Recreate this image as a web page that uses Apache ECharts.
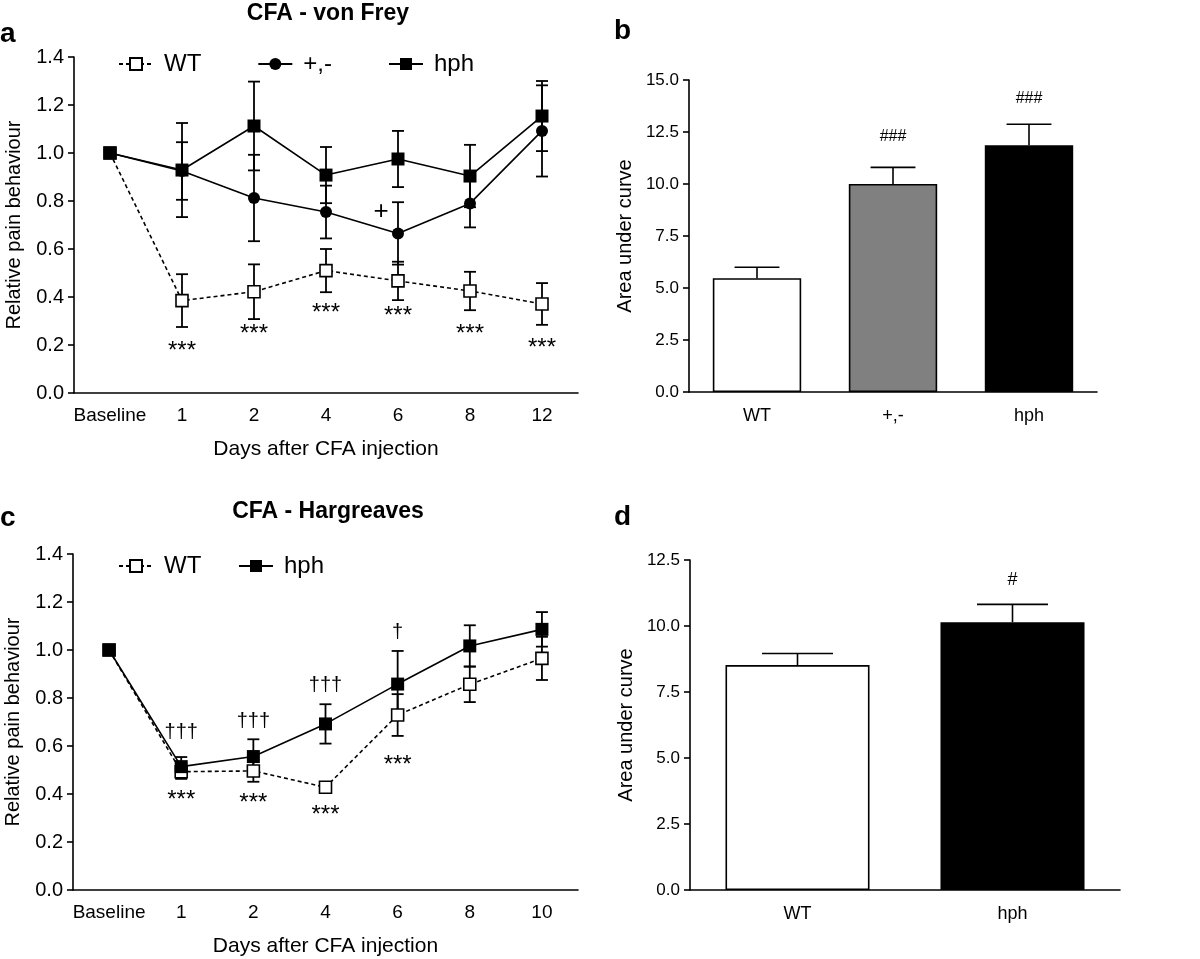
<!DOCTYPE html>
<html>
<head>
<meta charset="utf-8">
<script src="https://cdn.jsdelivr.net/npm/echarts@6/dist/echarts.min.js"></script>
<style>
  html, body { margin: 0; padding: 0; background: #fff; }
  #chart { width: 1200px; height: 959px; }
</style>
</head>
<body>
<div id="chart"></div>
<script>
// panel a - von Frey
const daysA = ['Baseline', '1', '2', '4', '6', '8', '12'];
const wtA = [1.0, 0.385, 0.422, 0.51, 0.467, 0.425, 0.371];
const wtAErr = [0, 0.11, 0.114, 0.09, 0.08, 0.08, 0.087];
const hetA = [1.0, 0.925, 0.8125, 0.754, 0.665, 0.79, 1.092];
const hetAErr = [0, 0.12, 0.18, 0.11, 0.13, 0.1, 0.19];
const hphA = [1.0, 0.929, 1.1125, 0.908, 0.975, 0.904, 1.154];
const hphAErr = [0, 0.196, 0.185, 0.117, 0.117, 0.13, 0.146];
const starA = [null, 0.196, 0.267, 0.354, 0.342, 0.267, 0.208];
const plusA = [null, null, null, null, 0.754, null, null];

// panel b - AUC von Frey
const groupsB = ['WT', '+,-', 'hph'];
const aucB = [5.47, 10.0, 11.86];
const aucBErr = [0.53, 0.8, 1.01];
const sigB = ['', '###', '###'];
const sigBY = [null, 12.3, 14.13];

// panel c - Hargreaves
const daysC = ['Baseline', '1', '2', '4', '6', '8', '10'];
const wtC = [1.0, 0.493, 0.496, 0.428, 0.729, 0.857, 0.965];
const wtCErr = [0, 0.03, 0.045, 0.015, 0.087, 0.074, 0.09];
const hphC = [1.0, 0.514, 0.556, 0.692, 0.858, 1.017, 1.086];
const hphCErr = [0, 0.04, 0.072, 0.082, 0.138, 0.086, 0.072];
const daggerC = ['', '†††', '†††', '†††', '†', '', ''];
const daggerCY = [null, 0.66, 0.705, 0.858, 1.076, null, null];
const starCY = [null, 0.393, 0.383, 0.333, 0.542, null, null];

// panel d - AUC Hargreaves
const groupsD = ['WT', 'hph'];
const aucD = [8.52, 10.14];
const aucDErr = [0.44, 0.68];
const sigD = ['', '#'];
const sigDY = [null, 11.74];

const FONT = 'Liberation Sans';
const barColors = { 'WT': '#ffffff', '+,-': '#808080', 'hph': '#000000' };

function errBars(idx, means, errs, capHalf, z) {
  const data = [];
  means.forEach((m, i) => { if (errs[i] > 0) data.push([i, m - errs[i], m + errs[i]]); });
  return {
    type: 'custom', xAxisIndex: idx, yAxisIndex: idx, z: z || 1, silent: true,
    data: data,
    renderItem(params, api) {
      const hi = api.coord([api.value(0), api.value(2)]);
      const lo = api.coord([api.value(0), api.value(1)]);
      const st = { stroke: '#000', lineWidth: 1.8 };
      return { type: 'group', children: [
        { type: 'line', shape: { x1: hi[0], y1: hi[1], x2: lo[0], y2: lo[1] }, style: st },
        { type: 'line', shape: { x1: hi[0] - capHalf, y1: hi[1], x2: hi[0] + capHalf, y2: hi[1] }, style: st },
        { type: 'line', shape: { x1: lo[0] - capHalf, y1: lo[1], x2: lo[0] + capHalf, y2: lo[1] }, style: st }
      ]};
    }
  };
}

// upper-only error bar for the AUC bars, cap = half bar width
function barErr(idx, means, errs) {
  return {
    type: 'custom', xAxisIndex: idx, yAxisIndex: idx, z: 3, silent: true,
    data: means.map((m, i) => [i, m, m + errs[i]]),
    renderItem(params, api) {
      const top = api.coord([api.value(0), api.value(1)]);
      const hi = api.coord([api.value(0), api.value(2)]);
      const half = api.size([1, 0])[0] * 0.165;
      const st = { stroke: '#000', lineWidth: 1.6 };
      return { type: 'group', children: [
        { type: 'line', shape: { x1: top[0], y1: top[1], x2: hi[0], y2: hi[1] }, style: st },
        { type: 'line', shape: { x1: hi[0] - half, y1: hi[1], x2: hi[0] + half, y2: hi[1] }, style: st }
      ]};
    }
  };
}

function notes(idx, ys, texts, size, dx, dy) {
  const data = [];
  ys.forEach((y, i) => { if (y != null) data.push([i, y]); });
  return {
    type: 'custom', xAxisIndex: idx, yAxisIndex: idx, z: 5, silent: true,
    data: data,
    renderItem(params, api) {
      const p = api.coord([api.value(0), api.value(1)]);
      const i = api.value(0);
      const t = typeof texts === 'string' ? texts : texts[i];
      return { type: 'text', x: p[0] + dx, y: p[1] + dy,
        style: { text: t, fill: '#000', font: size + 'px "' + FONT + '"', align: 'center', verticalAlign: 'middle' } };
    }
  };
}

function lineY(idx) {
  return {
    gridIndex: idx, type: 'value', min: 0, max: 1.4, interval: 0.2,
    name: 'Relative pain behaviour', nameLocation: 'middle', nameGap: 50,
    nameTextStyle: { fontSize: 20, color: '#000', fontFamily: FONT },
    axisLine: { show: true, lineStyle: { color: '#000', width: 1.6 } },
    axisTick: { show: true, length: 6, lineStyle: { color: '#000', width: 1.6 } },
    axisLabel: { fontSize: 20, color: '#000', fontFamily: FONT, margin: 10, formatter: v => v.toFixed(1) },
    splitLine: { show: false }
  };
}
function lineX(idx, cats) {
  return {
    gridIndex: idx, type: 'category', data: cats, boundaryGap: true,
    name: 'Days after CFA injection', nameLocation: 'middle', nameGap: 46,
    nameTextStyle: { fontSize: 21, color: '#000', fontFamily: FONT },
    axisLine: { lineStyle: { color: '#000', width: 1.6 } },
    axisTick: { alignWithLabel: true, interval: 0, length: 6, lineStyle: { color: '#000', width: 1.6 } },
    axisLabel: { interval: 0, fontSize: 19, color: '#000', fontFamily: FONT, margin: 13 }
  };
}
function barY(idx, max) {
  return {
    gridIndex: idx, type: 'value', min: 0, max: max, interval: 2.5,
    name: 'Area under curve', nameLocation: 'middle', nameGap: 54,
    nameTextStyle: { fontSize: 20, color: '#000', fontFamily: FONT },
    axisLine: { show: true, lineStyle: { color: '#000', width: 1.6 } },
    axisTick: { show: true, length: 6, lineStyle: { color: '#000', width: 1.6 } },
    axisLabel: { fontSize: 17, color: '#000', fontFamily: FONT, margin: 10, formatter: v => v.toFixed(1) },
    splitLine: { show: false }
  };
}
function barX(idx, cats) {
  return {
    gridIndex: idx, type: 'category', data: cats,
    axisLine: { lineStyle: { color: '#000', width: 1.6 } },
    axisTick: { alignWithLabel: true, length: 7, lineStyle: { color: '#000', width: 1.6 } },
    axisLabel: { interval: 0, fontSize: 18, color: '#000', fontFamily: FONT, margin: 15 }
  };
}

const solid = { color: '#000', width: 1.6 };
const dashed = { color: '#000', width: 1.6, type: [4, 3] };
const openSq = { color: '#fff', borderColor: '#000', borderWidth: 1.6 };
const filled = { color: '#000' };

const legendText = { fontSize: 24, color: '#000', fontFamily: FONT, padding: [0, 0, 0, 6] };

const option = {
  backgroundColor: '#fff',
  animation: false,
  textStyle: { fontFamily: FONT },
  graphic: [
    { type: 'text', x: 0, y: 20, style: { text: 'a', font: 'bold 28px "' + FONT + '"', fill: '#000' } },
    { type: 'text', x: 614, y: 17, style: { text: 'b', font: 'bold 28px "' + FONT + '"', fill: '#000' } },
    { type: 'text', x: 0, y: 504, style: { text: 'c', font: 'bold 28px "' + FONT + '"', fill: '#000' } },
    { type: 'text', x: 614, y: 503, style: { text: 'd', font: 'bold 28px "' + FONT + '"', fill: '#000' } },
    { type: 'text', x: 328, y: 14, style: { text: 'CFA - von Frey', font: 'bold 23px "' + FONT + '"', fill: '#000', align: 'center', verticalAlign: 'middle' } },
    { type: 'text', x: 328, y: 512, style: { text: 'CFA - Hargreaves', font: 'bold 23px "' + FONT + '"', fill: '#000', align: 'center', verticalAlign: 'middle' } }
  ],
  legend: [
    { left: 113, top: 47, itemWidth: 34, itemHeight: 15, itemGap: 56, textStyle: legendText,
      data: ['WT', '+,-', 'hph'].map(n => ({ name: n })), selectedMode: false },
    { left: 113, top: 549, itemWidth: 34, itemHeight: 15, itemGap: 30, textStyle: legendText,
      data: ['WT ', 'hph '].map(n => ({ name: n })), selectedMode: false }
  ],
  grid: [
    { left: 74, top: 57, width: 504, height: 336 },
    { left: 689, top: 80, width: 408, height: 312 },
    { left: 73, top: 554, width: 505, height: 336 },
    { left: 690, top: 560, width: 430, height: 330 }
  ],
  xAxis: [lineX(0, daysA), barX(1, groupsB), lineX(2, daysC), barX(3, groupsD)],
  yAxis: [lineY(0), barY(1, 15), lineY(2), barY(3, 12.5)],
  series: [
    // a
    errBars(0, wtA, wtAErr, 6, 1),
    errBars(0, hetA, hetAErr, 6, 1),
    errBars(0, hphA, hphAErr, 6, 1),
    { name: 'WT', type: 'line', xAxisIndex: 0, yAxisIndex: 0, data: wtA, z: 3,
      symbol: 'rect', symbolSize: 12, showAllSymbol: true, lineStyle: dashed, itemStyle: openSq },
    { name: '+,-', type: 'line', xAxisIndex: 0, yAxisIndex: 0, data: hetA, z: 4,
      symbol: 'circle', symbolSize: 12, lineStyle: solid, itemStyle: filled },
    { name: 'hph', type: 'line', xAxisIndex: 0, yAxisIndex: 0, data: hphA, z: 5,
      symbol: 'rect', symbolSize: 13, lineStyle: solid, itemStyle: filled },
    notes(0, starA, '***', 24, 0, 5),
    notes(0, plusA, '+', 26, -17, 0),
    // b
    { type: 'bar', xAxisIndex: 1, yAxisIndex: 1, barWidth: '65%', z: 2,
      data: aucB.map((v, i) => ({ value: v, itemStyle: { color: barColors[groupsB[i]], borderColor: '#000', borderWidth: 1.6 } })) },
    barErr(1, aucB, aucBErr),
    notes(1, sigBY, sigB, 16, 0, 0),
    // c
    errBars(2, wtC, wtCErr, 6, 1),
    errBars(2, hphC, hphCErr, 6, 1),
    { name: 'WT ', type: 'line', xAxisIndex: 2, yAxisIndex: 2, data: wtC, z: 3,
      symbol: 'rect', symbolSize: 12, lineStyle: dashed, itemStyle: openSq },
    { name: 'hph ', type: 'line', xAxisIndex: 2, yAxisIndex: 2, data: hphC, z: 5,
      symbol: 'rect', symbolSize: 13, lineStyle: solid, itemStyle: filled },
    notes(2, daggerCY, daggerC, 20, 0, 1),
    notes(2, starCY, '***', 24, 0, 5),
    // d
    { type: 'bar', xAxisIndex: 3, yAxisIndex: 3, barWidth: '67%', z: 2,
      data: aucD.map((v, i) => ({ value: v, itemStyle: { color: barColors[groupsD[i]], borderColor: '#000', borderWidth: 1.6 } })) },
    barErr(3, aucD, aucDErr),
    notes(3, sigDY, sigD, 18, 0, 0)
  ]
};

const myChart = echarts.init(document.getElementById('chart'));
myChart.setOption(option);
</script>
</body>
</html>
